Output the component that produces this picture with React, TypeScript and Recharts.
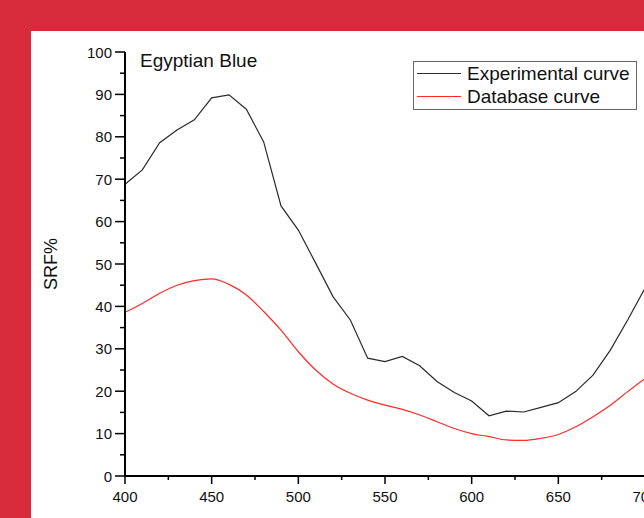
import { Label, Legend, Line, LineChart, XAxis, YAxis } from "recharts"

const wavelength = [400, 410, 420, 430, 440, 450, 460, 470, 480, 490, 500, 510, 520, 530, 540, 550, 560, 570, 580, 590, 600, 610, 620, 630, 640, 650, 660, 670, 680, 690, 700]

const experimental = [68.8, 72.2, 78.6, 81.6, 84.0, 89.2, 89.9, 86.5, 78.8, 63.7, 58.0, 50.2, 42.3, 36.8, 27.8, 27.0, 28.2, 26.0, 22.3, 19.7, 17.7, 14.2, 15.3, 15.1, 16.2, 17.3, 19.9, 23.8, 29.7, 36.8, 44.3]

const database = [38.6, 40.7, 43.1, 45.0, 46.1, 46.5, 45.2, 42.7, 38.8, 34.4, 29.3, 25.0, 21.7, 19.5, 17.9, 16.7, 15.7, 14.4, 12.8, 11.2, 10.0, 9.3, 8.5, 8.4, 8.9, 9.8, 11.6, 14.0, 16.7, 19.9, 23.0]

const xTicks = [400, 425, 450, 475, 500, 525, 550, 575, 600, 625, 650, 675, 700]
const yTicks = [0, 5, 10, 15, 20, 25, 30, 35, 40, 45, 50, 55, 60, 65, 70, 75, 80, 85, 90, 95, 100]

const seriesNames = ["Experimental curve", "Database curve"]

const data = wavelength.map((nm, i) => ({
  nm,
  experimental: experimental[i],
  database: database[i],
}))

const FONT = '"Liberation Sans", Arial, sans-serif'

const XTick = ({ x, y, payload }: any) => {
  const major = payload.value % 50 === 0
  return (
    <g>
      <line x1={x} x2={x} y1={y} y2={y + (major ? 8 : 4)} stroke="#000" strokeWidth={1.5} />
      {major && (
        <text x={x} y={y + 26} textAnchor="middle" fontSize={15} fontFamily={FONT} fill="#111">
          {payload.value}
        </text>
      )}
    </g>
  )
}

const YTick = ({ x, y, payload }: any) => {
  const major = payload.value % 10 === 0
  return (
    <g>
      <line x1={x - (major ? 10 : 5)} x2={x} y1={y} y2={y} stroke="#000" strokeWidth={1.5} />
      {major && (
        <text x={x - 13} y={y + 5.5} textAnchor="end" fontSize={15} fontFamily={FONT} fill="#111">
          {payload.value}
        </text>
      )}
    </g>
  )
}

// keep the legend rows in the same order as the original figure
const LegendBox = ({ payload }: any) => {
  const items = [...(payload || [])].sort(
    (a: any, b: any) => seriesNames.indexOf(a.value) - seriesNames.indexOf(b.value)
  )
  return (
    <div
      style={{
        border: "1.5px solid #666",
        boxSizing: "border-box",
        height: 49,
        width: 224,
        background: "#fff",
        fontFamily: FONT,
        fontSize: 19,
        color: "#111",
      }}
    >
      {items.map((p: any) => (
        <div key={p.value} style={{ display: "flex", alignItems: "center", height: 23, lineHeight: "23px", paddingLeft: 3 }}>
          <div style={{ width: 44, height: 0, borderTop: `1.5px solid ${p.color}`, marginRight: 6 }} />
          <span style={{ whiteSpace: "nowrap" }}>{p.value}</span>
        </div>
      ))}
    </div>
  )
}

export default function App() {
  return (
    <div
      style={{
        position: "absolute",
        left: 0,
        top: 0,
        width: 644,
        height: 518,
        overflow: "hidden",
        background: "#d72a3a",
      }}
    >
      <div style={{ position: "absolute", left: 31, top: 31, right: 0, bottom: 0, background: "#fff" }} />
      <div
        style={{
          position: "absolute",
          left: 140,
          top: 51,
          fontFamily: FONT,
          fontSize: 19,
          lineHeight: "19px",
          color: "#111",
          whiteSpace: "nowrap",
        }}
      >
        Egyptian Blue
      </div>
      <div style={{ position: "absolute", left: 0, top: 0 }}>
        <LineChart width={700} height={518} data={data} margin={{ top: 52, right: 55, bottom: 12, left: 0 }}>
          <XAxis
            dataKey="nm"
            type="number"
            domain={[400, 700]}
            ticks={xTicks}
            interval={0}
            height={30}
            tickSize={0}
            tickMargin={0}
            tickLine={false}
            axisLine={{ stroke: "#000", strokeWidth: 2 }}
            tick={<XTick />}
          />
          <YAxis
            type="number"
            domain={[0, 100]}
            ticks={yTicks}
            interval={0}
            width={125}
            tickSize={0}
            tickMargin={0}
            tickLine={false}
            axisLine={{ stroke: "#000", strokeWidth: 2 }}
            tick={<YTick />}
          >
            <Label
              value="SRF%"
              angle={-90}
              position="center"
              dx={-12}
              style={{ fontSize: 18, fontFamily: FONT, fill: "#111" }}
            />
          </YAxis>
          <Legend
            layout="horizontal"
            verticalAlign="middle"
            align="center"
            content={<LegendBox />}
            wrapperStyle={{ left: 413, top: 61, width: 224, height: 49 }}
          />
          <Line
            type="linear"
            dataKey="experimental"
            name={seriesNames[0]}
            stroke="#2a2a2a"
            strokeWidth={1.2}
            dot={false}
            isAnimationActive={false}
          />
          <Line
            type="monotone"
            dataKey="database"
            name={seriesNames[1]}
            stroke="#ff2a2a"
            strokeWidth={1.2}
            dot={false}
            isAnimationActive={false}
          />
        </LineChart>
      </div>
    </div>
  )
}
